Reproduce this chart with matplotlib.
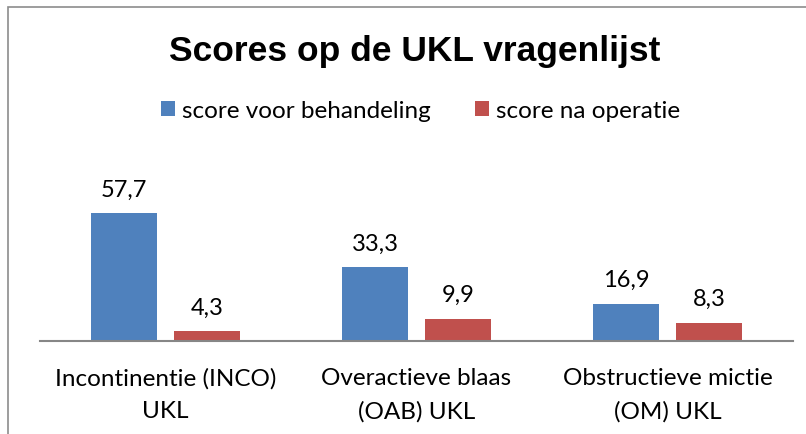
import matplotlib
matplotlib.use("Agg")
import matplotlib.pyplot as plt
from matplotlib.patches import Rectangle
import numpy as np

categories = ["Incontinentie (INCO)\nUKL", "Overactieve blaas\n(OAB) UKL", "Obstructieve mictie\n(OM) UKL"]
series_names = ["score voor behandeling", "score na operatie"]
voor = [57.7, 33.3, 16.9]
na = [4.3, 9.9, 8.3]
colors = ["#4F81BD", "#C0504D"]

W, H = 806, 435
fig = plt.figure(figsize=(W/100, H/100), dpi=100)
fig.patch.set_facecolor("white")

# outer chart border (cropped at right/bottom)
fig.patches.append(Rectangle((8/W, -0.1), 1.2, 1 - 8/H + 0.1, transform=fig.transFigure,
                             fill=False, edgecolor="#8c8c8c", linewidth=1.2))

left, right = 40/W, 793/W
bottom, top = 1 - 342/H, 1 - 187/H
ax = fig.add_axes([left, bottom, right - left, top - bottom])
ax.set_xlim(0, 3)
ax.set_ylim(0, 70)

x = np.arange(3) + 0.5
bw = 66/251
gap = 17/251
off = (bw + gap)/2
b1 = ax.bar(x - off, voor, bw, color=colors[0], label=series_names[0])
b2 = ax.bar(x + off, na, bw, color=colors[1], label=series_names[1])

fam = ["Lato", "DejaVu Sans"]
for bars, vals in ((b1, voor), (b2, na)):
    for r, v in zip(bars, vals):
        ax.annotate(f"{v:.1f}".replace(".", ","), (r.get_x() + r.get_width()/2, v),
                    xytext=(0, 10), textcoords="offset points", ha="center", va="bottom",
                    fontsize=17, family=fam, clip_on=False)

for s in ["top", "right", "left"]:
    ax.spines[s].set_visible(False)
ax.spines["bottom"].set_color("#868686")
ax.spines["bottom"].set_linewidth(1.5)
ax.set_yticks([])
ax.set_xticks(x)
ax.set_xticklabels(categories, fontsize=17.5, family=fam, linespacing=1.68)
ax.tick_params(axis="x", length=0, pad=19)

fig.text(415/W, 1 - 52/H, "Scores op de UKL vragenlijst", ha="center", va="center",
         fontsize=25.5, fontweight="bold", family=["Liberation Sans", "DejaVu Sans"])

leg = fig.legend(handles=[b1, b2], labels=series_names, loc="center", bbox_to_anchor=(420.5/W, 1 - 112/H),
                 ncol=2, frameon=False, prop={"family": fam, "size": 17.5},
                 handlelength=0.58, handleheight=0.58, handletextpad=0.3, columnspacing=1.8,
                 borderpad=0, borderaxespad=0)

fig.savefig("out.png", dpi=100, facecolor="white")
